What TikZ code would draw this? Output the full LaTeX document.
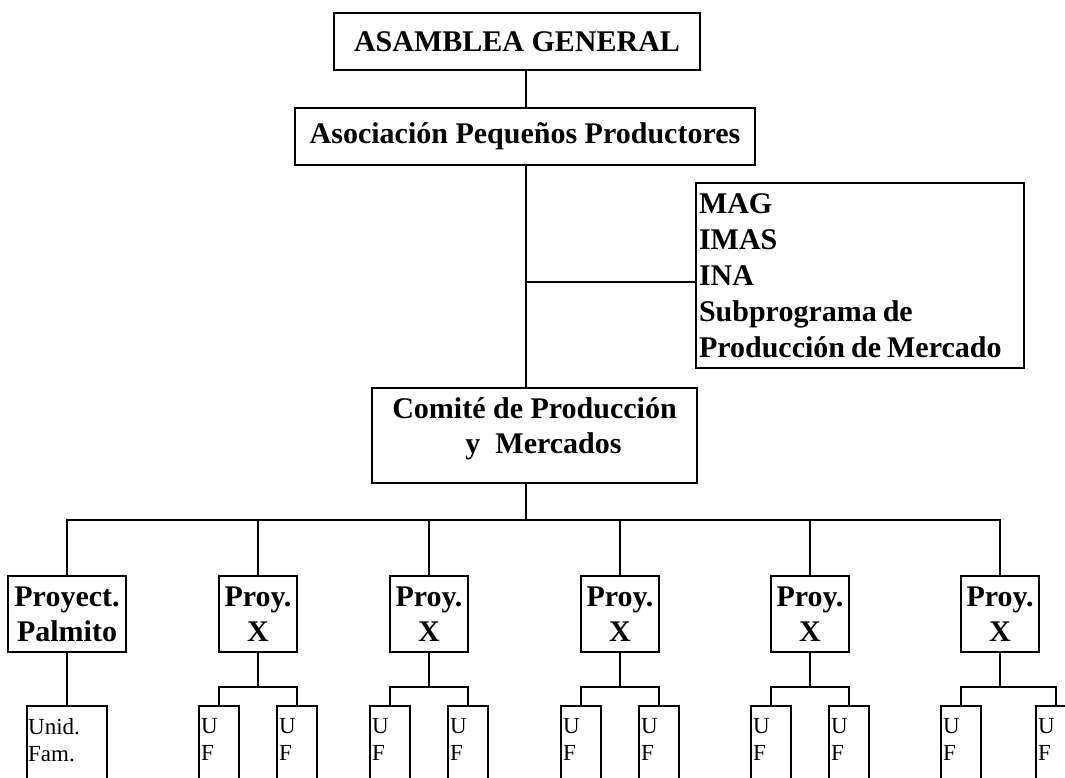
\documentclass[tikz,border=0pt]{standalone}
\usepackage{fontspec}
\setmainfont{Liberation Serif}
\tikzset{
  box/.style={draw, line width=2pt, inner sep=0pt, align=center, font=\fontsize{30}{35}\selectfont\bfseries},
  ln/.style={line width=2pt},
  ufbox/.style={draw, line width=2pt, anchor=north, minimum width=40pt, minimum height=110pt, inner sep=0pt},
  uftext/.style={anchor=north west, align=left, inner sep=0pt, font=\fontsize{23}{27}\selectfont},
}
\begin{document}
\begin{tikzpicture}[x=1pt,y=-1pt]
\clip (0,0) rectangle (1065,778);
\fill[white] (0,0) rectangle (1065,778);
\node[box, minimum width=366pt, minimum height=57pt] (ag) at (517,41.5) {ASAMBLEA GENERAL};
\node[box, minimum width=460pt, minimum height=57pt] (ap) at (525,136.5) {Asociación Pequeños Productores};
\node[box, align=left, text width=322pt, inner xsep=3pt, minimum height=185pt, font=\fontsize{30}{36}\selectfont\bfseries] (mag) at (860,275.5) {MAG\\IMAS\\INA\\Subprograma\hspace{6pt}de\\Producción\hspace{6pt}de\hspace{6pt}Mercado};
\node[box, minimum width=325pt, minimum height=95pt] (cm) at (534.5,435.5) {Comité de Producción\\\hspace{0.6em}y\ \ Mercados\\[-15pt]\mbox{}};
\coordinate (mx) at (526,0);
\coordinate (br) at (526,282);
\coordinate (bus) at (0,520);
\coordinate (sb) at (0,687);
\draw[ln] (ag.south -| mx) -- (ap.north -| mx);
\draw[ln] (ap.south -| mx) -- (cm.north -| mx);
\draw[ln] (br) -- (br -| mag.west);
\draw[ln] (cm.south -| mx) -- (mx |- bus);
% first project
\node[box, minimum width=118pt, minimum height=76pt] (p1) at (67,614) {Proyect.\\Palmito};
\node[ufbox, minimum width=80pt] (uf1) at (67,705) {};
\node[uftext] (uf1t) at ([xshift=2pt,yshift=-13pt]uf1.north west) {Unid.\\Fam.};
\draw[ln] (p1.south) -- (uf1.north);
% other projects
\foreach \i/\cx/\l/\r in {2/258/219/297, 3/429/390/468, 4/620/581/659, 5/810/771/849, 6/1000/961/1056}{
  \node[box, minimum width=78pt, minimum height=76pt] (p\i) at (\cx,614) {Proy.\\X};
  \node[ufbox] (ufl\i) at (\l,705) {};
  \node[ufbox] (ufr\i) at (\r,705) {};
  \node[uftext] (ufl\i t) at ([xshift=3pt,yshift=-13pt]ufl\i.north west) {U\\F};
  \node[uftext] (ufr\i t) at ([xshift=3pt,yshift=-13pt]ufr\i.north west) {U\\F};
  \draw[ln] (p\i.south) -- (p\i.south |- sb);
  \draw[ln] (ufl\i.north) -- (ufl\i.north |- sb) -- (ufr\i.north |- sb) -- (ufr\i.north);
}
% main bus
\draw[ln] (p1.north) -- (p1.north |- bus) -- (p6.north |- bus) -- (p6.north);
\foreach \i in {2,3,4,5}{
  \draw[ln] (p\i.north) -- (p\i.north |- bus);
}
\end{tikzpicture}
\end{document}
